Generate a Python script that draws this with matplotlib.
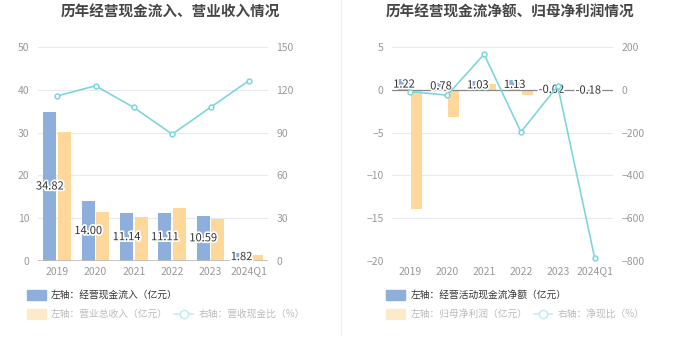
import numpy as np
import matplotlib.pyplot as plt
import matplotlib.patheffects as pe
from matplotlib.patches import Rectangle
from matplotlib.lines import Line2D

plt.rcParams['font.family'] = ['Noto Sans CJK SC', 'DejaVu Sans']

years = ['2019', '2020', '2021', '2022', '2023', '2024Q1']

# left chart
cash_in = [34.82, 14.00, 11.14, 11.11, 10.59, 1.82]
revenue = [30.1, 11.4, 10.35, 12.5, 9.83, 1.44]
cash_ratio = [115.7, 122.8, 107.6, 88.9, 107.7, 126.4]

# right chart
net_cash = [1.22, 0.78, 1.03, 1.13, -0.02, -0.18]
net_profit = [-13.9, -3.2, 0.62, -0.57, -0.11, 0.023]
net_ratio = [-9, -25, 166, -197, 18, -784]

BLUE = '#8eaedc'
ORANGE = '#fed89a'
CYAN = '#7fd6da'
GRID = '#e6e9f2'
TICK = '#999999'

W, H = 680, 349
fig = plt.figure(figsize=(W / 100, H / 100), dpi=100)


def ax_at(x0, y0, x1, y1):
    return fig.add_axes([x0 / W, 1 - y1 / H, (x1 - x0) / W, (y1 - y0) / H])


def fpos(x, y):
    return x / W, 1 - y / H


stroke = [pe.withStroke(linewidth=2.5, foreground='white')]
x = np.arange(len(years))
bw = 0.34
off = 0.19


def style(ax, ax2):
    for a in (ax, ax2):
        for s in a.spines.values():
            s.set_visible(False)
        a.tick_params(axis='y', length=0, labelsize=7.5, labelcolor=TICK, pad=6)
    ax.set_xticks(x)
    ax.set_xticklabels(years)
    ax.tick_params(axis='x', length=0, labelsize=7.5, labelcolor=TICK, pad=4)
    ax.set_xlim(-0.5, len(years) - 0.5)
    ax.grid(axis='y', color=GRID, linewidth=0.8)
    ax.set_axisbelow(True)


# ---- left chart ----
ax = ax_at(38, 47, 268, 261)
ax2 = ax.twinx()
ax.bar(x - off, cash_in, bw, color=BLUE, zorder=2)
ax.bar(x + off, revenue, bw, color=ORANGE, zorder=2)
ax.set_ylim(0, 50)
ax.set_yticks([0, 10, 20, 30, 40, 50])
ax2.set_ylim(0, 150)
ax2.set_yticks([0, 30, 60, 90, 120, 150])
ax2.plot(x, cash_ratio, color=CYAN, lw=1.2, marker='o', ms=3.5,
         mfc='white', mec=CYAN, mew=1.1, zorder=5)
style(ax, ax2)
ax.axhline(0, color='#bbbbbb', lw=1.2, zorder=3)
for i, v in enumerate(cash_in):
    ax.text(x[i] - off, v / 2, f'{v:.2f}', ha='center', va='center', fontsize=8,
            color='#333333', path_effects=stroke, zorder=6)
fig.text(*fpos(170, 12), '历年经营现金流入、营业收入情况', ha='center', va='center',
         fontsize=10.5, fontweight='bold', color='#464646')

# ---- right chart ----
bx = ax_at(392, 47, 613, 261)
bx2 = bx.twinx()
bx.bar(x - off * 0.9, net_cash, bw * 0.9, color=BLUE, zorder=2)
bx.bar(x + off * 0.9, net_profit, bw * 0.9, color=ORANGE, zorder=2)
bx.set_ylim(-20, 5)
bx.set_yticks([-20, -15, -10, -5, 0, 5])
bx2.set_ylim(-800, 200)
bx2.set_yticks([-800, -600, -400, -200, 0, 200])
style(bx, bx2)
bx.axhline(0, color='#888888', lw=0.9, zorder=3)
bx2.plot(x, net_ratio, color=CYAN, lw=1.2, marker='o', ms=3.5,
         mfc='white', mec=CYAN, mew=1.1, zorder=5)
for i, v in enumerate(net_cash):
    bx.text(x[i] - off * 0.9, v / 2, f'{v:.2f}', ha='center', va='center', fontsize=8,
            color='#333333', path_effects=stroke, zorder=6)
fig.text(*fpos(510, 12), '历年经营现金流净额、归母净利润情况', ha='center', va='center',
         fontsize=10.5, fontweight='bold', color='#464646')

# divider
fig.add_artist(Line2D([341 / W, 341 / W], [1 - 0 / H, 1 - 335 / H],
                      color='#f0f0f0', lw=1))


# ---- legends ----
def legend_box(x0, y, color):
    fig.add_artist(Rectangle(fpos(x0, y + 5), 19 / W, 10 / H, color=color,
                             transform=fig.transFigure))


def legend_line(xc, y):
    fig.add_artist(Line2D([(xc - 9) / W, (xc + 9) / W], [1 - y / H, 1 - y / H],
                          color='#c4eef0', lw=1.2))
    fig.add_artist(Line2D([xc / W], [1 - y / H], marker='o', ms=6, mfc='white',
                          mec='#c4eef0', mew=1.2))


def legend_text(x0, y, s, c):
    fig.text(*fpos(x0, y), s, ha='left', va='center', fontsize=7, color=c)


legend_box(27, 294.5, BLUE)
legend_text(51, 294.5, '左轴：经营现金流入（亿元）', '#333333')
legend_box(27, 313.5, '#fee9c9')
legend_text(51, 313.5, '左轴：营业总收入（亿元）', '#bbbbbb')
legend_line(183.5, 313.5)
legend_text(199, 313.5, '右轴：营收现金比（%）', '#bbbbbb')

legend_box(386, 294.5, BLUE)
legend_text(411, 294.5, '左轴：经营活动现金流净额（亿元）', '#333333')
legend_box(386, 313.5, '#fee9c9')
legend_text(411, 313.5, '左轴：归母净利润（亿元）', '#bbbbbb')
legend_line(543, 313.5)
legend_text(558, 313.5, '右轴：净现比（%）', '#bbbbbb')

fig.savefig('out.png', dpi=100)
